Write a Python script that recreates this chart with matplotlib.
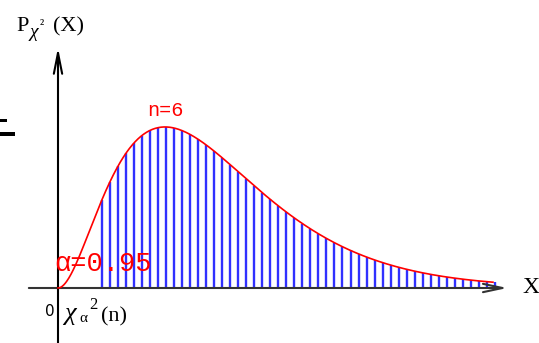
import numpy as np
import matplotlib
matplotlib.use('Agg')
import matplotlib.pyplot as plt
from matplotlib.lines import Line2D

# chi-square distribution parameters
n = 6
alpha = 0.95
x_end = 16.26          # right end of the drawn curve
step = 0.3             # spacing of the shading lines

W, H = 539, 343


def pdf(x, k):
    x = np.asarray(x, dtype=float)
    g = np.prod(np.arange(1, k // 2))  # gamma(k/2) for even k
    return x ** (k / 2 - 1) * np.exp(-x / 2) / (2 ** (k / 2) * g)


# lower quantile so that the area to its right equals alpha
grid = np.linspace(0, 40, 40001)
dens = pdf(grid, n)
cdf = np.concatenate([[0], np.cumsum((dens[1:] + dens[:-1]) / 2 * np.diff(grid))])
x_q = np.interp(1 - alpha, cdf, grid)

fig = plt.figure(figsize=(W / 100, H / 100), dpi=100)
ax = fig.add_axes([0, 0, 1, 1])
ax.set_xlim(-58 / 26.75, (W - 58) / 26.75)
ax.set_ylim(-55 / 1190, 288 / 1190)
ax.axis('off')


def px(x, y):
    return x / W, 1 - y / H


# axes with arrows
ax.annotate('', xy=(16.8, 0), xytext=(-1.09, 0),
            arrowprops=dict(arrowstyle='->,head_length=1.4,head_width=0.3',
                            color='#333333', lw=1.5, shrinkA=0, shrinkB=0))
ax.annotate('', xy=(0, 0.202), xytext=(0, -0.047),
            arrowprops=dict(arrowstyle='->,head_length=1.5,head_width=0.3',
                            color='black', lw=1.5, shrinkA=0, shrinkB=0))

# shaded region to the right of the quantile
xs = np.arange(x_q, x_end + 0.1, step)
ax.vlines(xs, 0, pdf(xs, n), color='#3030ff', lw=1.7, zorder=2)

# density curve
xc = np.linspace(0, x_end, 600)
ax.plot(xc, pdf(xc, n), color='red', lw=1.2, zorder=3)

# labels
fig.text(*px(16, 31), 'P', fontsize=16, family='Liberation Serif')
fig.text(*px(30, 37), 'χ', fontsize=14, family='Liberation Serif', style='italic')
fig.text(*px(40, 29), '²', fontsize=10, family='Liberation Serif')
fig.text(*px(53, 31), '(X)', fontsize=16, family='Liberation Serif')
fig.text(*px(147, 116), 'n=6', fontsize=14.5, color='red',
         family=['Liberation Mono', 'DejaVu Sans Mono'])
fig.text(*px(54, 271), 'α=0.95', fontsize=19.5, color='red',
         family=['Liberation Mono', 'DejaVu Sans Mono'])
fig.text(*px(522, 293), 'X', fontsize=17, family='Liberation Serif')
fig.text(*px(45, 316), '0', fontsize=11, family='DejaVu Sans')
fig.text(*px(64, 320), 'χ', fontsize=19, family='Liberation Serif', style='italic')
fig.text(*px(79, 322), 'α', fontsize=11, family='Liberation Serif')
fig.text(*px(89, 309), '2', fontsize=12, family='Liberation Serif')
fig.text(*px(101, 321), '(n)', fontsize=16, family='Liberation Serif')

# stray marks at the left edge
for (x0, x1, y, w) in [(0, 5, 119.5, 3), (0, 13, 133.5, 4)]:
    fig.add_artist(Line2D([x0 / W, x1 / W], [1 - y / H, 1 - y / H],
                          color='black', lw=w * 0.72, transform=fig.transFigure))

fig.savefig('out.png', dpi=100)
